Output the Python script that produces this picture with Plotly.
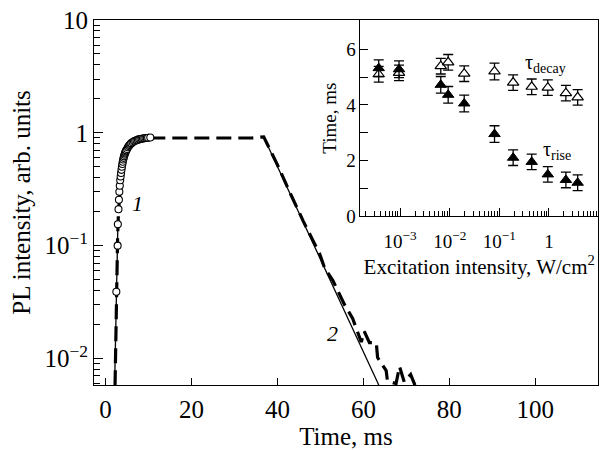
import plotly.graph_objects as go

# ---------------- main panel data ----------------
# curve 1: open circles (PL rise)
rise_t = [2.5, 2.8, 2.85, 3.0, 3.1, 3.2, 3.3, 3.4, 3.5, 3.6, 3.7, 3.8, 3.9, 4.0,
          4.1, 4.2, 4.3, 4.4, 4.5, 4.6, 4.7, 4.8, 5.0, 5.2, 5.4, 5.6, 5.8, 6.0,
          6.3, 6.6, 6.9, 7.2, 7.5, 7.8, 8.1, 8.4, 8.7, 9.0, 9.3, 9.6, 9.9, 10.4]
rise_I = [0.039, 0.10, 0.155, 0.21, 0.255, 0.30, 0.34, 0.38, 0.41, 0.44, 0.47, 0.50,
          0.53, 0.555, 0.58, 0.60, 0.62, 0.64, 0.655, 0.67, 0.685, 0.70, 0.72, 0.745,
          0.765, 0.78, 0.795, 0.81, 0.825, 0.84, 0.85, 0.86, 0.87, 0.875, 0.88, 0.885,
          0.89, 0.895, 0.90, 0.90, 0.905, 0.91]

# curve 2: measured trace (thick dashed)
meas_t = [2.2, 2.4, 2.6, 2.8, 3.0, 3.3, 3.7, 4.2, 5.0, 6.0, 7.5, 9.0, 10.5, 15, 20,
          25, 30, 34, 36.8, 40, 43, 46, 49.8, 51, 52.9, 54.4, 55.6, 57.5, 59.5, 60.2,
          61.4, 63.0, 63.3, 65.3, 65.6, 67.6, 68.4, 69.5, 71.0, 72.0]
meas_I = [0.0058, 0.02, 0.06, 0.12, 0.2, 0.32, 0.45, 0.58, 0.71, 0.8, 0.87, 0.89,
          0.9, 0.9, 0.9, 0.9, 0.9, 0.9, 0.92, 0.52, 0.29, 0.165, 0.085, 0.063, 0.049,
          0.037, 0.03, 0.0226, 0.014, 0.0174, 0.0138, 0.0138, 0.0102, 0.0078, 0.0063,
          0.006, 0.0085, 0.0062, 0.0072, 0.0058]

# thin solid fit lines
fit_rise_t = [2.1, 2.5, 2.85]
fit_rise_I = [0.0058, 0.04, 0.15]
fit_decay_t = [36.8, 63.6]
fit_decay_I = [0.92, 0.0058]

main_yticks = [10, 1, 0.1, 0.01]
main_yticktext = ["10", "1", "10<sup>−1</sup>", "10<sup>−2</sup>"]
main_yminor = [9, 8, 7, 6, 5, 4, 3, 2, 0.9, 0.8, 0.7, 0.6, 0.5, 0.4, 0.3, 0.2,
               0.09, 0.08, 0.07, 0.06, 0.05, 0.04, 0.03, 0.02,
               0.009, 0.008, 0.007, 0.006]

# ---------------- inset data ----------------
exc = [3.7e-4, 9.5e-4, 6.6e-3, 9.3e-3, 0.0196, 0.08, 0.19, 0.45, 0.95, 2.2, 3.8]
tau_decay = [5.1, 5.15, 5.39, 5.53, 5.12, 5.2, 4.8, 4.65, 4.62, 4.42, 4.27]
tau_rise = [5.32, 5.28, 4.72, 4.36, 4.05, 2.95, 2.1, 1.95, 1.5, 1.3, 1.2]
err_decay = [0.28, 0.28, 0.28, 0.28, 0.28, 0.3, 0.28, 0.28, 0.28, 0.28, 0.28]
err_rise = [0.3, 0.3, 0.3, 0.3, 0.3, 0.3, 0.28, 0.28, 0.28, 0.28, 0.28]

inset_xticks = [1e-3, 1e-2, 1e-1, 1]
inset_xticktext = ["10<sup>−3</sup>", "10<sup>−2</sup>", "10<sup>−1</sup>", "1"]
inset_xminor = [2e-4, 3e-4, 4e-4, 5e-4, 6e-4, 7e-4, 8e-4, 9e-4,
                2e-3, 3e-3, 4e-3, 5e-3, 6e-3, 7e-3, 8e-3, 9e-3,
                0.02, 0.03, 0.04, 0.05, 0.06, 0.07, 0.08, 0.09,
                0.2, 0.3, 0.4, 0.5, 0.6, 0.7, 0.8, 0.9,
                2, 3, 4, 5, 6, 7, 8, 9]

FONT = "Liberation Serif"
BLACK = "black"

fig = go.Figure()

fig.add_trace(go.Scatter(x=fit_rise_t, y=fit_rise_I, mode="lines",
                         line=dict(color=BLACK, width=1.3), xaxis="x", yaxis="y"))
fig.add_trace(go.Scatter(x=fit_decay_t, y=fit_decay_I, mode="lines",
                         line=dict(color=BLACK, width=1.3), xaxis="x", yaxis="y"))
fig.add_trace(go.Scatter(x=meas_t, y=meas_I, mode="lines",
                         line=dict(color=BLACK, width=3.2, dash="15px,7px"),
                         xaxis="x", yaxis="y"))
fig.add_trace(go.Scatter(x=rise_t, y=rise_I, mode="markers",
                         marker=dict(symbol="circle", size=7, color="white",
                                     line=dict(color=BLACK, width=1.1)),
                         xaxis="x", yaxis="y"))

# inset traces
fig.add_trace(go.Scatter(x=exc, y=tau_decay, mode="markers",
                         marker=dict(symbol="triangle-up", size=10, color="white",
                                     line=dict(color=BLACK, width=1.2)),
                         error_y=dict(type="data", array=err_decay, visible=True,
                                      color=BLACK, thickness=1.3, width=5),
                         xaxis="x2", yaxis="y2"))
fig.add_trace(go.Scatter(x=exc, y=tau_rise, mode="markers",
                         marker=dict(symbol="triangle-up", size=10, color=BLACK,
                                     line=dict(color=BLACK, width=1)),
                         error_y=dict(type="data", array=err_rise, visible=True,
                                      color=BLACK, thickness=1.3, width=5),
                         xaxis="x2", yaxis="y2"))

axis_common = dict(showgrid=False, zeroline=False, showline=True, linecolor=BLACK,
                   linewidth=1, ticks="inside", tickcolor=BLACK, tickwidth=1,
                   mirror=True)

fig.update_layout(
    width=606, height=450,
    margin=dict(l=94, r=7, t=19, b=57),
    paper_bgcolor="white", plot_bgcolor="white",
    showlegend=False,
    font=dict(family=FONT, color=BLACK, size=25),
    xaxis=dict(**axis_common, domain=[0, 1], range=[-2.7, 114.6],
               tickvals=[0, 20, 40, 60, 80, 100], ticklen=7,
               tickfont=dict(size=25, family=FONT), ticklabelstandoff=2,
               title=dict(text="Time, ms", font=dict(size=25, family=FONT), standoff=2),
               anchor="y"),
    yaxis=dict(**axis_common, domain=[0, 1], type="log", range=[-2.235, 1.0],
               tickvals=main_yticks, ticktext=main_yticktext, ticklen=9,
               tickfont=dict(size=25, family=FONT),
               minor=dict(tickmode="array", tickvals=main_yminor, ticks="inside",
                          ticklen=6, tickcolor=BLACK, tickwidth=1),
               title=dict(text="PL intensity, arb. units",
                          font=dict(size=25, family=FONT), standoff=6),
               anchor="x"),
    xaxis2=dict(**axis_common, domain=[0.5287, 1], type="log", range=[-3.8, 0.99],
                tickvals=inset_xticks, ticktext=inset_xticktext, ticklen=8,
                tickfont=dict(size=19, family=FONT), ticklabelstandoff=8,
                minor=dict(tickmode="array", tickvals=inset_xminor, ticks="inside",
                           ticklen=5, tickcolor=BLACK, tickwidth=1),
                title=dict(text="Excitation intensity, W/cm<sup>2</sup>",
                           font=dict(size=21, family=FONT), standoff=2),
                anchor="y2"),
    yaxis2=dict(**axis_common, domain=[0.4626, 1], range=[0, 7.05],
                tickvals=[0, 2, 4, 6], ticklen=8,
                tickfont=dict(size=19, family=FONT),
                minor=dict(tickmode="array", tickvals=[1, 3, 5], ticks="inside",
                           ticklen=8, tickcolor=BLACK, tickwidth=1),
                title=dict(text="Time, ms", font=dict(size=19, family=FONT), standoff=4),
                anchor="x2"),
    annotations=[
        dict(x=7.4, y=-0.63, xref="x", yref="y", text="<i>1</i>", showarrow=False,
             font=dict(size=22, family=FONT)),
        dict(x=52.8, y=-1.776, xref="x", yref="y", text="<i>2</i>", showarrow=False,
             font=dict(size=22, family=FONT)),
        dict(x=-0.06, y=5.5, xref="x2", yref="y2", text="τ<sub>decay</sub>",
             showarrow=False, font=dict(size=20, family=FONT)),
        dict(x=0.16, y=2.36, xref="x2", yref="y2", text="τ<sub>rise</sub>",
             showarrow=False, font=dict(size=20, family=FONT)),
    ],
)

fig.write_html("out.html")
